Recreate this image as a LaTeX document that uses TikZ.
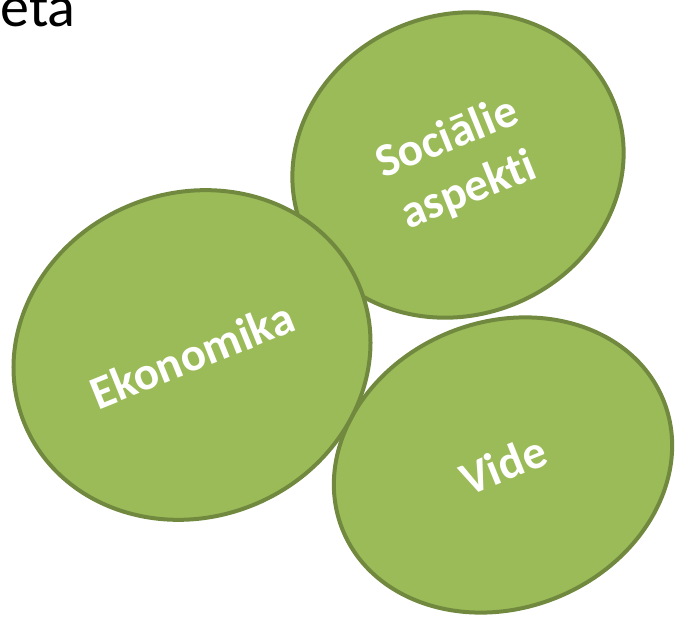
\documentclass[tikz,border=0pt]{standalone}
\usepackage{fontspec}
\setmainfont{Carlito}[RawFeature={-liga;-clig;-calt;-dlig}]
\usetikzlibrary{shapes.geometric}
\definecolor{leafgreen}{HTML}{9BBB59}
\definecolor{leafedge}{HTML}{71893F}

\begin{document}
\begin{tikzpicture}[x=1pt,y=1pt,
  pillar/.style={ellipse,fill=leafgreen,draw=leafedge,line width=4pt,rotate=22,
    text=white,align=center,inner sep=0pt,
    font=\bfseries\fontsize{47}{57}\selectfont}]
\useasboundingbox (0,0) rectangle (675,618);
% \draw[help lines,step=50] (0,0) grid (675,618);
\node (title) [anchor=base west,font=\fontsize{58}{70}\selectfont] at (-3,591) {eta};
\node (vide) [pillar,minimum width=346,minimum height=286] at (503,153) {Vide};
\node (soc) [pillar,minimum width=336,minimum height=300] at (458,453) {Sociālie\\aspekt\kern0pt i};
\node (eko) [pillar,minimum width=362,minimum height=324] at (192,263) {Ekonomika};
\end{tikzpicture}
\end{document}
